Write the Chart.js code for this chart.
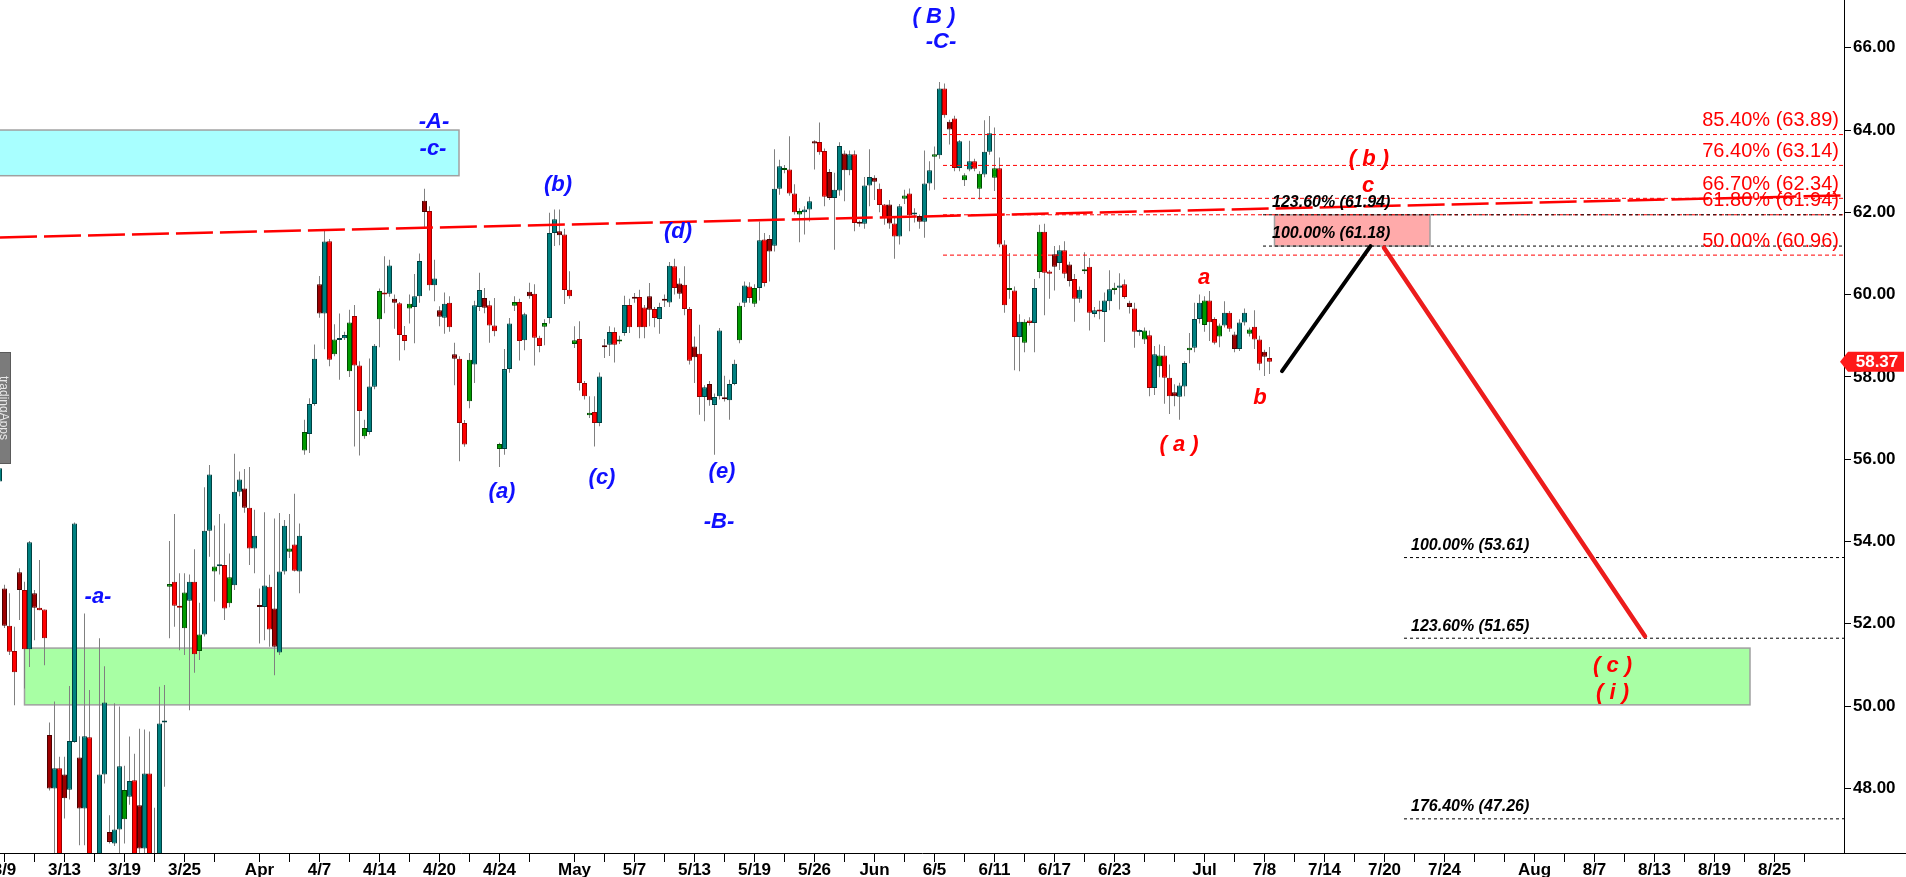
<!DOCTYPE html>
<html>
<head>
<meta charset="utf-8">
<script src="https://cdn.jsdelivr.net/npm/chart.js@4.4.1/dist/chart.umd.min.js"></script>
<style>
  html, body { margin: 0; padding: 0; background: #fff; overflow: hidden; }
  canvas { display: block; }
</style>
</head>
<body>
<canvas id="chart" width="1906" height="877"></canvas>
<script>
// --- bars (one per slot) ---
const opens = [
  55.46,52.86,51.95,51.34,53.25,52.82,51.38,52.74,52.39,52.35,
  49.30,48.00,48.49,48.34,47.97,49.13,48.75,47.51,49.24,46.30,
  46.20,48.34,46.94,46.66,47.00,47.25,47.80,48.20,47.59,46.54,
  48.36,46.00,46.30,49.60,52.90,53.02,52.44,51.89,52.56,53.02,
  51.34,51.74,54.26,53.27,53.40,53.43,52.50,52.94,55.21,55.29,
  54.82,53.83,52.45,52.41,52.90,52.37,51.30,53.27,53.75,53.93,
  53.27,56.21,56.61,57.34,60.25,59.54,61.30,58.55,58.90,58.94,
  58.14,59.48,58.28,56.56,56.66,57.76,59.40,60.05,60.02,59.90,
  59.79,59.02,59.66,59.70,59.96,62.28,62.03,60.23,59.62,59.44,
  59.80,58.55,58.44,56.88,57.41,58.30,59.70,59.92,59.74,59.25,
  56.25,56.25,58.19,59.73,59.82,58.89,60.07,60.02,58.95,59.22,
  59.43,61.50,61.54,61.46,60.12,58.80,58.92,57.85,57.07,57.15,
  56.88,58.74,58.78,59.09,58.86,59.07,59.75,59.92,59.94,59.69,
  59.96,59.65,59.41,59.86,59.81,60.69,60.27,60.24,59.65,58.74,
  58.56,57.51,57.83,57.32,57.53,57.48,57.43,57.83,58.89,59.80,
  60.20,59.78,60.16,61.34,61.35,61.19,62.57,63.03,63.04,62.46,
  61.95,62.00,62.07,63.73,63.71,63.49,62.98,62.35,62.53,63.43,
  63.02,63.41,61.76,61.72,62.65,62.84,62.57,62.19,62.19,61.73,
  61.41,62.33,62.46,61.95,61.91,61.77,62.70,63.35,63.39,65.01,
  64.20,64.28,63.08,62.78,63.04,63.24,62.57,62.92,63.47,62.84,
  63.07,61.22,60.11,60.10,58.97,58.83,59.37,59.31,60.55,61.53,
  60.56,60.98,60.77,61.08,60.73,60.38,59.90,60.57,60.68,59.53,
  59.61,59.58,59.84,60.11,60.17,60.25,59.80,59.66,59.09,58.91,
  59.01,57.73,58.26,58.52,57.98,57.63,57.52,57.77,58.65,58.71,
  59.41,59.26,59.86,59.41,58.98,59.25,59.56,59.03,58.68,59.32,
  59.05,59.22,58.91,58.61,58.46
];
const highs = [
  55.85,52.95,52.74,51.93,53.35,53.02,54.01,52.82,53.55,52.35,
  49.60,50.11,48.77,48.77,50.49,54.46,49.27,52.25,50.39,46.40,
  51.65,50.97,47.35,50.07,49.99,48.55,49.26,48.84,49.45,49.43,
  49.38,47.53,50.47,50.51,54.01,54.67,53.23,53.23,53.20,53.81,
  52.51,55.32,55.86,54.39,54.67,54.44,53.71,56.13,55.70,55.76,
  55.81,54.77,52.86,54.71,53.19,54.56,54.69,54.52,54.67,55.16,
  54.44,56.96,57.48,58.79,60.45,61.55,61.35,59.28,59.54,59.10,
  59.63,59.75,58.38,56.96,58.45,58.80,60.15,60.93,60.85,60.00,
  59.82,59.24,60.00,60.50,61.00,62.57,62.15,60.85,59.72,60.05,
  59.96,58.83,58.50,56.95,58.58,59.85,60.53,60.16,59.85,59.92,
  56.40,58.68,59.43,59.96,59.90,59.56,60.29,60.25,59.00,59.40,
  61.99,62.07,62.07,61.60,60.57,59.23,59.35,57.90,57.53,57.53,
  58.11,58.92,59.23,59.20,59.00,59.97,59.90,60.04,60.12,59.75,
  60.28,59.70,59.80,60.00,60.79,60.87,60.40,60.69,59.70,58.98,
  59.27,57.80,57.90,57.60,59.19,58.03,57.93,58.42,59.80,60.32,
  60.30,60.25,61.78,61.50,61.45,63.53,63.28,63.15,63.85,62.68,
  62.10,62.15,62.38,63.75,64.18,63.55,63.05,62.96,63.70,63.50,
  63.50,63.50,61.80,62.86,63.53,62.90,62.70,62.20,62.30,61.90,
  62.20,62.55,62.58,62.10,61.95,63.50,63.24,63.60,65.17,65.13,
  64.25,64.35,63.76,62.95,63.74,63.30,63.00,64.24,64.34,64.06,
  63.33,61.32,61.01,60.20,59.52,59.40,59.45,60.38,61.70,61.72,
  60.60,61.18,61.20,61.30,60.80,60.50,60.20,61.03,60.89,59.70,
  59.85,60.05,60.59,60.29,60.52,60.37,59.85,59.80,59.15,59.20,
  59.13,58.75,58.79,58.75,58.30,57.82,57.86,58.38,59.07,59.80,
  60.00,59.96,60.09,59.45,59.30,59.84,59.60,59.10,59.40,59.66,
  59.20,59.62,59.00,58.66,58.73
];
const lows = [
  55.40,51.90,51.24,50.02,52.09,50.43,50.95,51.60,52.33,50.99,
  47.95,46.20,45.90,47.27,47.73,49.11,46.62,46.62,45.90,45.60,
  46.00,48.12,46.66,46.60,46.30,46.66,47.60,46.00,46.30,46.40,
  46.00,45.80,46.10,48.04,51.65,51.93,51.36,51.24,49.90,50.81,
  51.12,51.69,53.63,52.54,53.20,52.09,52.40,52.82,55.10,54.70,
  53.43,53.23,51.52,51.60,51.44,50.75,51.24,53.20,53.60,53.27,
  52.74,56.11,56.15,57.30,59.44,58.67,58.26,58.50,57.93,58.90,
  58.00,56.31,56.09,56.50,56.60,57.70,58.72,59.55,59.95,59.17,
  58.40,58.65,59.30,58.82,59.80,61.60,60.10,59.84,59.23,59.05,
  59.10,57.80,55.95,56.30,57.24,57.85,59.60,59.55,58.83,58.99,
  55.81,56.11,58.10,59.60,58.40,58.65,59.90,58.28,58.60,58.77,
  59.30,61.18,61.20,59.77,59.90,58.70,57.67,57.45,57.00,56.31,
  56.80,58.46,58.51,58.35,58.80,59.00,59.07,59.80,58.94,58.94,
  59.23,59.21,59.05,59.70,59.70,60.00,59.90,59.50,58.30,57.85,
  57.08,56.92,57.30,56.11,57.45,57.40,56.96,57.80,58.82,59.70,
  59.80,59.70,59.86,60.20,60.32,61.05,62.43,62.95,62.40,61.95,
  61.27,61.46,61.78,63.04,63.40,62.15,62.30,61.09,62.40,62.27,
  62.90,61.54,61.65,61.60,62.15,62.30,62.00,61.70,61.60,60.87,
  61.22,62.20,61.54,61.75,61.60,61.38,62.53,62.55,63.30,64.30,
  63.65,63.00,63.00,62.64,63.00,63.00,62.31,62.85,63.40,62.52,
  61.15,59.56,59.90,58.16,58.14,58.60,59.25,58.60,60.40,59.50,
  59.90,60.10,60.60,60.40,60.20,59.34,59.80,60.50,59.13,59.45,
  59.40,58.85,59.62,60.00,59.64,59.90,59.54,58.71,59.00,58.80,
  57.53,57.56,57.99,57.35,57.10,57.29,56.96,57.53,58.33,58.60,
  59.30,59.10,58.87,58.79,58.72,59.20,59.10,58.60,58.63,59.25,
  58.98,58.68,58.16,58.02,58.07
];
const closes = [
  55.78,51.95,51.32,50.82,52.82,51.38,53.98,52.39,52.33,51.65,
  48.00,48.49,46.10,47.76,49.15,54.44,47.51,49.27,46.20,45.90,
  48.34,50.09,46.70,47.00,48.54,47.96,48.18,46.20,46.54,48.36,
  46.20,46.30,49.58,49.61,52.97,52.44,52.39,52.76,53.02,51.26,
  51.74,54.26,55.63,53.39,53.43,52.37,53.13,55.21,55.51,54.82,
  53.83,54.14,52.41,52.93,51.86,51.44,53.27,54.38,53.83,53.29,
  54.14,56.66,57.34,58.44,59.54,61.29,58.42,58.91,58.94,59.02,
  59.32,58.28,57.17,56.76,57.77,58.76,60.09,60.00,60.71,59.80,
  59.02,58.87,59.78,59.96,60.82,62.01,60.23,60.39,59.46,59.78,
  59.21,58.44,56.88,56.36,58.42,59.74,60.11,59.68,59.25,59.11,
  56.37,58.19,59.30,59.82,58.87,59.52,59.96,58.95,58.75,59.31,
  61.50,61.83,61.44,60.11,59.96,58.89,57.85,57.53,57.13,56.88,
  58.01,58.72,59.09,58.78,58.90,59.75,59.21,59.90,59.21,59.21,
  59.63,59.43,59.70,59.85,60.70,60.16,60.02,59.65,58.39,58.48,
  57.51,57.75,57.43,57.51,59.13,57.46,57.83,58.32,59.73,60.22,
  59.92,60.16,61.32,60.28,61.05,62.57,63.12,63.05,62.46,62.00,
  62.03,62.07,62.27,63.67,63.46,62.38,62.35,62.55,63.61,63.02,
  63.41,61.74,61.72,62.65,62.86,62.74,62.18,61.87,61.73,61.41,
  62.15,62.41,61.93,61.97,61.77,62.70,63.02,63.41,65.01,64.36,
  64.01,63.08,63.73,62.90,63.24,63.06,62.94,63.47,63.92,63.07,
  61.22,59.74,60.13,58.97,59.34,59.34,59.31,60.16,61.53,60.53,
  60.51,60.68,61.08,60.51,60.33,59.90,60.12,60.59,59.56,59.62,
  59.59,59.86,60.13,60.17,60.22,59.94,59.70,59.10,59.10,59.13,
  57.73,58.55,58.52,57.98,57.53,57.53,57.79,58.34,58.71,59.41,
  59.80,59.86,59.33,58.83,59.25,59.56,59.17,58.68,59.32,59.56,
  59.15,58.91,58.32,58.49,58.37
];
// bar class as printed: t teal, g green, r red, d dark red
const barClass = (
  'tdrrdrtdrr' + 'dtrdttdtrr' + 'ttdttgtrdt' + 'rtttgrrgtr' + 'gttgtrgttd' +
  'rtdtrdttgr' + 'tgttdtrgtt' + 'grrgttgrtd' + 'rrgttdrtdt' + 'rdrrgttdrr' +
  'gttgrtdrrg' + 'ttdrrgrrgr' + 'tdtrgtrdrr' + 'drtdtrdrrd' + 'rtdttdttgt' +
  'rgtrdttgrr' + 'gttdrrdttd' + 'trdttdrrdr' + 'tgrtdttgtr' + 'drtgtrgttg' +
  'rrgrtgrtgr' + 'rdtrdrtgrt' + 'rttgtrdrtg' + 'rtgrrdttgt' + 'tgrrgtrdtt' + 'grrdr'
).split('');

// --- date axis (bar slot -> label) ---
const dateSlots  = [1,13,25,37,52,64,76,88,100,115,127,139,151,163,175,187,199,211,223,241,253,265,277,289,307,319,331,343,355];
const dateLabels = ['3/9','3/13','3/19','3/25','Apr','4/7','4/14','4/20','4/24','May','5/7','5/13','5/19','5/26','Jun','6/5','6/11','6/17','6/23','Jul','7/8','7/14','7/20','7/24','Aug','8/7','8/13','8/19','8/25'];
const minorSlots = [7,19,31,43,58,70,82,94,106,121,133,145,157,169,181,193,205,217,229,235,247,259,271,283,295,301,313,325,337,349,361];
const priceTicks = [48,50,52,54,56,58,60,62,64,66];

// --- drawings ---
const trendSlots  = [0.1, 368.9];
const trendPrices = [61.39, 62.41];
const projUpSlots    = [256.5, 274.2];
const projUpPrices   = [58.14, 61.18];
const projDownSlots  = [276.9, 329.1];
const projDownPrices = [61.14, 51.70];

const retraceNames  = ['85.40%','76.40%','66.70%','61.80%','50.00%'];
const retracePrices = [63.89, 63.14, 62.34, 61.94, 60.96];
const retraceFrom   = 188.7;
const extUpNames    = ['123.60%','100.00%'];
const extUpPrices   = [61.94, 61.18];
const extUpFrom     = 252.7;
const extDownNames  = ['100.00%','123.60%','176.40%'];
const extDownPrices = [53.61, 51.65, 47.26];
const extDownFrom   = 280.9;

// zones: cyan resistance, green support, pink target
const zoneFrom  = [-1, 5, 255];
const zoneTo    = [91.9, 350.1, 286.1];
const zoneLow   = [62.89, 50.03, 61.18];
const zoneHigh  = [64.00, 51.41, 61.94];

const waveText   = ['( B )','-C-','-A-','-c-','(b)','(d)','(a)','(c)','(e)','-B-','-a-'];
const waveSlot   = [186.9, 188.3, 86.9, 86.7, 111.7, 135.7, 100.5, 120.5, 144.5, 143.9, 19.7];
const wavePrice  = [66.75, 66.13, 64.20, 63.54, 62.66, 61.52, 55.20, 55.54, 55.69, 54.47, 52.65];
const countText  = ['( b )','c','a','b','( a )','( c )','( i )'];
const countSlot  = [273.9, 273.7, 240.9, 252.1, 235.9, 322.6, 322.6];
const countPrice = [63.30, 62.64, 60.40, 57.49, 56.35, 50.98, 50.32];

const X_MIN = 0.1, X_MAX = 368.9, Y_MIN = 46.43, Y_MAX = 67.16;
const FONT = "'Liberation Sans', Arial, sans-serif";

const FILL   = { t: '#008080', g: '#009a00', r: '#ff0000', d: '#9c0000' };
const EDGE   = { t: '#004040', g: '#004d00', r: '#9a0000', d: '#4d0000' };
const ZONE_FILL = ['#a8ffff', '#a8ffa4', '#ffaaaa'];

const slots = closes.map((_, i) => i);
const labelBySlot = new Map(dateSlots.map((s, i) => [s, dateLabels[i]]));

const hLine = (from, price) => [{ x: from, y: price }, { x: X_MAX, y: price }];

const datasets = [
  {
    type: 'bar', order: 20, grouped: false, barThickness: 1, inflateAmount: 0,
    backgroundColor: '#808080', borderWidth: 0,
    data: slots.map(i => ({ x: i, y: [lows[i], highs[i]] }))
  },
  {
    type: 'bar', order: 19, grouped: false, barThickness: 5, inflateAmount: 0,
    minBarLength: 2, borderWidth: 1, borderSkipped: false,
    backgroundColor: barClass.map(c => FILL[c]),
    borderColor: barClass.map(c => EDGE[c]),
    data: slots.map(i => ({ x: i, y: [opens[i], closes[i]] }))
  }
];

retracePrices.forEach(p => datasets.push({
  type: 'line', order: 10, data: hLine(retraceFrom, p), borderColor: '#ff0000',
  borderWidth: 1, borderDash: [4, 3], pointRadius: 0
}));
extUpPrices.forEach(p => datasets.push({
  type: 'line', order: 9, data: hLine(extUpFrom, p), borderColor: '#000',
  borderWidth: 1, borderDash: [3, 3], pointRadius: 0
}));
extDownPrices.forEach(p => datasets.push({
  type: 'line', order: 9, data: hLine(extDownFrom, p), borderColor: '#000',
  borderWidth: 1, borderDash: [3, 3], pointRadius: 0
}));
datasets.push({
  type: 'line', order: 8, borderColor: '#ff0000', borderWidth: 2.5, borderDash: [37, 7], pointRadius: 0,
  data: trendSlots.map((s, i) => ({ x: s, y: trendPrices[i] }))
});
datasets.push({
  type: 'line', order: 5, borderColor: '#000', borderWidth: 4, borderCapStyle: 'round', pointRadius: 0,
  data: projUpSlots.map((s, i) => ({ x: s, y: projUpPrices[i] }))
});
datasets.push({
  type: 'line', order: 5, borderColor: '#ec1c1c', borderWidth: 4.5, borderCapStyle: 'round', pointRadius: 0,
  data: projDownSlots.map((s, i) => ({ x: s, y: projDownPrices[i] }))
});

const overlay = {
  id: 'overlay',
  beforeDatasetsDraw(chart) {
    const { ctx, chartArea: a, scales: { x, y } } = chart;
    ctx.save();
    ctx.beginPath();
    ctx.rect(a.left, a.top, a.width, a.height);
    ctx.clip();
    zoneFrom.forEach((f, i) => {
      const x0 = x.getPixelForValue(f), x1 = x.getPixelForValue(zoneTo[i]);
      const y0 = y.getPixelForValue(zoneHigh[i]), y1 = y.getPixelForValue(zoneLow[i]);
      ctx.fillStyle = ZONE_FILL[i];
      ctx.fillRect(x0, y0, x1 - x0, y1 - y0);
      ctx.strokeStyle = '#a0a0a0';
      ctx.lineWidth = 1.5;
      ctx.strokeRect(x0, y0, x1 - x0, y1 - y0);
    });
    ctx.restore();
  },
  afterDatasetsDraw(chart) {
    const { ctx, chartArea: a, scales: { x, y } } = chart;
    ctx.save();
    ctx.textBaseline = 'middle';

    // fib labels
    ctx.font = `20px ${FONT}`;
    ctx.fillStyle = '#ff0000';
    ctx.textAlign = 'right';
    retracePrices.forEach((p, i) => {
      ctx.fillText(`${retraceNames[i]} (${p.toFixed(2)})`, a.right - 5, y.getPixelForValue(p) - 14);
    });
    ctx.font = `italic bold 16px ${FONT}`;
    ctx.fillStyle = '#000';
    ctx.textAlign = 'left';
    extUpPrices.forEach((p, i) => {
      ctx.fillText(`${extUpNames[i]} (${p.toFixed(2)})`, x.getPixelForValue(254.5), y.getPixelForValue(p) - 12);
    });
    extDownPrices.forEach((p, i) => {
      ctx.fillText(`${extDownNames[i]} (${p.toFixed(2)})`, x.getPixelForValue(282.3), y.getPixelForValue(p) - 12);
    });

    // wave labels
    ctx.textAlign = 'center';
    ctx.font = `italic bold 22px ${FONT}`;
    ctx.fillStyle = '#1010ff';
    waveText.forEach((t, i) => ctx.fillText(t, x.getPixelForValue(waveSlot[i]), y.getPixelForValue(wavePrice[i])));
    ctx.fillStyle = '#ff0000';
    countText.forEach((t, i) => ctx.fillText(t, x.getPixelForValue(countSlot[i]), y.getPixelForValue(countPrice[i])));
    ctx.restore();
  },
  afterDraw(chart) {
    const { ctx, chartArea: a, scales: { y } } = chart;
    ctx.save();
    // axis line runs on under the price scale
    ctx.strokeStyle = '#000';
    ctx.lineWidth = 1;
    ctx.beginPath();
    ctx.moveTo(a.right, Math.round(a.bottom) + 0.5);
    ctx.lineTo(chart.width, Math.round(a.bottom) + 0.5);
    ctx.stroke();

    // last price tag
    const last = closes[closes.length - 1];
    const ty = y.getPixelForValue(last);
    ctx.fillStyle = '#ff1a1a';
    ctx.beginPath();
    ctx.moveTo(a.right - 4, ty);
    ctx.lineTo(a.right + 4, ty - 10);
    ctx.lineTo(chart.width - 2, ty - 10);
    ctx.lineTo(chart.width - 2, ty + 10);
    ctx.lineTo(a.right + 4, ty + 10);
    ctx.closePath();
    ctx.fill();
    ctx.fillStyle = '#fff';
    ctx.font = `bold 17px ${FONT}`;
    ctx.textAlign = 'center';
    ctx.textBaseline = 'middle';
    ctx.fillText(last.toFixed(2), (a.right + chart.width) / 2 + 2, ty + 1);

    // vendor tab at the left edge
    ctx.fillStyle = '#7b7b7b';
    ctx.fillRect(0, 352, 11, 112);
    ctx.strokeStyle = '#5a5a5a';
    ctx.strokeRect(-1, 352.5, 11.5, 111);
    ctx.translate(3, 408);
    ctx.rotate(Math.PI / 2);
    ctx.fillStyle = '#e8e8e8';
    ctx.font = `12px ${FONT}`;
    ctx.fillText('tradingApps', 0, 0);
    ctx.restore();
  }
};

new Chart(document.getElementById('chart'), {
  type: 'bar',
  data: { datasets },
  options: {
    responsive: false,
    animation: false,
    events: [],
    devicePixelRatio: 1,
    layout: { padding: 0 },
    plugins: { legend: { display: false }, tooltip: { enabled: false } },
    scales: {
      x: {
        type: 'linear', min: X_MIN, max: X_MAX, offset: false,
        grid: { offset: false, drawOnChartArea: false, drawTicks: true, tickLength: 9, color: '#000' },
        border: { display: true, color: '#000', width: 1 },
        ticks: {
          autoSkip: false, maxRotation: 0, minRotation: 0, padding: 0, color: '#000',
          font: { family: FONT, size: 17, weight: 'bold', lineHeight: 1 },
          callback: v => labelBySlot.get(v) ?? ''
        },
        afterBuildTicks: s => { s.ticks = [...dateSlots, ...minorSlots].sort((a, b) => a - b).map(v => ({ value: v })); },
        afterFit: s => { s.height = 24; s.paddingLeft = 0; s.paddingRight = 0; }
      },
      y: {
        position: 'right', min: Y_MIN, max: Y_MAX,
        grid: { drawOnChartArea: false, drawTicks: true, tickLength: 7, color: '#000' },
        border: { display: true, color: '#000', width: 1 },
        ticks: {
          padding: 2, color: '#000',
          font: { family: FONT, size: 17, weight: 'bold' },
          callback: v => Number(v).toFixed(2)
        },
        afterBuildTicks: s => { s.ticks = priceTicks.map(v => ({ value: v })); },
        afterFit: s => { s.width = 62; s.paddingTop = 0; s.paddingBottom = 0; }
      }
    }
  },
  plugins: [overlay]
});
</script>
</body>
</html>
